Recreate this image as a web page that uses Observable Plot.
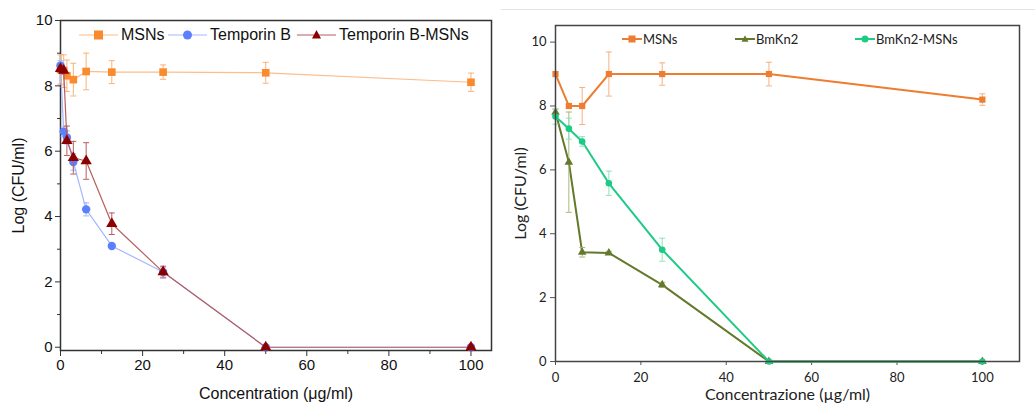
<!DOCTYPE html>
<html><head><meta charset="utf-8">
<script src="https://cdn.jsdelivr.net/npm/d3@7"></script>
<script src="https://cdn.jsdelivr.net/npm/@observablehq/plot@0.6"></script>
<style>
body{margin:0;background:#fff;}
#wrap{position:relative;width:1035px;height:403px;overflow:hidden;background:#fff;}
.panel{position:absolute;top:0;}
.leg{position:absolute;display:flex;align-items:center;white-space:nowrap;}
.leg svg{display:block;}
#legL .leg{font:16px "Liberation Sans",Arial,sans-serif;color:#111;}
#legR .leg{font:13px Lato,sans-serif;color:#222;}
#sep{position:absolute;left:501px;top:9px;width:534px;height:0;border-top:1.5px solid #e4e4e4;}
#left g[aria-label="x-axis label"], #left g[aria-label="y-axis label"]{font-size:16px;}
#right g[aria-label="x-axis label"], #right g[aria-label="y-axis label"]{font-size:16px;}
</style></head><body><div id="wrap"><div id="sep"></div></div>
<script>
// ---------- Left panel data (Temporin B) ----------
const concL = [0, 0.78, 1.56, 3.125, 6.25, 12.5, 25, 50, 100];
const msnsL = [8.5, 8.45, 8.31, 8.19, 8.44, 8.42, 8.42, 8.4, 8.11];
const msnsLErr = [0.45, 0.5, 0.48, 0.5, 0.56, 0.35, 0.22, 0.32, 0.28];
const tempB = [8.62, 6.6, 6.42, 5.67, 4.22, 3.1, 2.3, 0, 0];
const tempBErr = [0.15, 0.15, 0.2, 0.25, 0.2, 0.06, 0.15, 0, 0];
const tempBMSN = [8.52, 8.47, 6.32, 5.8, 5.7, 3.78, 2.3, 0, 0];
const tempBMSNErr = [0.1, 0.1, 0.45, 0.5, 0.56, 0.33, 0.18, 0, 0];
const seriesL = ["MSNs", "Temporin B", "Temporin B-MSNs"];
const xTicksL = [0, 20, 40, 60, 80, 100];
const xMinorL = [10, 30, 50, 70, 90];
const yTicks = [0, 2, 4, 6, 8, 10];
const yMinorL = [1, 3, 5, 7, 9];

// ---------- Right panel data (BmKn2) ----------
const concR = [0, 3.125, 6.25, 12.5, 25, 50, 100];
const msnsR = [9.0, 8.0, 8.0, 9.0, 9.0, 9.0, 8.2];
const msnsRErr = [0, 0.05, 0.58, 0.69, 0.35, 0.37, 0.18];
const bmkn2 = [7.8, 6.24, 3.42, 3.4, 2.4, 0, 0];
const bmkn2Err = [0.1, 1.57, 0.15, 0.05, 0.08, 0, 0];
const bmkn2MSN = [7.67, 7.29, 6.89, 5.58, 3.5, 0, 0];
const bmkn2MSNErr = [0.24, 0.33, 0.15, 0.38, 0.36, 0, 0];
const seriesR = ["MSNs", "BmKn2", "BmKn2-MSNs"];
const xTicksR = [0, 20, 40, 60, 80, 100];

const capSymbol = {draw(ctx, size){ const w = Math.sqrt(size/Math.PI); ctx.moveTo(-w,0); ctx.lineTo(w,0); }};
const rows = (conc, vals, errs) => conc.map((x,i)=>({x, y: vals[i], e: errs[i]}));

function seriesMarks(data, {line, marker, err, symbol, r, lw}) {
  const withErr = data.filter(d => d.e > 0);
  return [
    Plot.line(data, {x:"x", y:"y", stroke: line, strokeWidth: lw}),
    Plot.ruleX(withErr, {x:"x", y1: d=>d.y-d.e, y2: d=>d.y+d.e, stroke: err, strokeWidth: 1}),
    Plot.dot(withErr, {x:"x", y: d=>d.y+d.e, symbol: capSymbol, r: 3, stroke: err, strokeWidth: 1}),
    Plot.dot(withErr, {x:"x", y: d=>d.y-d.e, symbol: capSymbol, r: 3, stroke: err, strokeWidth: 1}),
    Plot.dot(data, {x:"x", y:"y", symbol, r, fill: marker, stroke: "none"})
  ];
}

// ---------- Left plot ----------
const left = Plot.plot({
  width: 500, height: 403,
  marginLeft: 60, marginTop: 20, marginRight: 9, marginBottom: 53,
  style: {fontFamily: '"Liberation Sans", Arial, sans-serif', fontSize: "15px", color: "#111", background: "transparent"},
  x: {domain: [0, 105]},
  y: {domain: [-0.1, 10]},
  marks: [
    Plot.frame({stroke: "#333", strokeWidth: 1.5}),
    Plot.axisX(xTicksL, {tickSize: 6, tickPadding: 3, fontSize: 15, label: "Concentration (μg/ml)", labelAnchor: "center", labelArrow: "none", labelOffset: 48, stroke: "#333"}),
    Plot.axisX(xMinorL, {tickSize: 4, tickFormat: () => "", label: null, stroke: "#333"}),
    Plot.axisY(yTicks, {tickSize: 5, tickPadding: 3, fontSize: 15, label: "Log (CFU/ml)", labelAnchor: "center", labelArrow: "none", labelOffset: 48, stroke: "#333"}),
    Plot.axisY(yMinorL, {tickSize: 3, tickFormat: () => "", label: null, stroke: "#333"}),
    ...seriesMarks(rows(concL, msnsL, msnsLErr), {line: "#FBBE8C", marker: "#F98A2E", err: "#FBB27A", symbol: "square", r: 4.3, lw: 1.2}),
    ...seriesMarks(rows(concL, tempB, tempBErr), {line: "#A4B6FF", marker: "#5B80FF", err: "#A4B6FF", symbol: "circle", r: 4.2, lw: 1.2}),
    ...seriesMarks(rows(concL, tempBMSN, tempBMSNErr), {line: "#B65F5F", marker: "#8B0000", err: "#B65F5F", symbol: "triangle", r: 4.2, lw: 1.2})
  ]
});
left.id = "left";
left.classList.add("panel");
left.style.left = "0px";

// ---------- Right plot ----------
const right = Plot.plot({
  width: 535, height: 403,
  marginLeft: 55, marginTop: 25, marginRight: 16, marginBottom: 42,
  style: {fontFamily: 'Lato, sans-serif', fontSize: "13px", color: "#222", background: "transparent"},
  x: {domain: [0, 108.7]},
  y: {domain: [0, 10.52]},
  marks: [
    Plot.axisX(xTicksR, {tickSize: 4, tickPadding: 7, fontSize: 13, label: "Concentrazione (µg/ml)", labelAnchor: "center", labelArrow: "none", labelOffset: 38, stroke: "#555"}),
    Plot.axisY(yTicks, {tickSize: 5, tickPadding: 4, fontSize: 13, label: "Log (CFU/ml)", labelAnchor: "center", labelArrow: "none", labelOffset: 41, stroke: "#555"}),
    ...seriesMarks(rows(concR, msnsR, msnsRErr), {line: "#ED7D31", marker: "#ED7D31", err: "#F4B183", symbol: "square", r: 3.5, lw: 2}),
    ...seriesMarks(rows(concR, bmkn2, bmkn2Err), {line: "#64792B", marker: "#64792B", err: "#A9B87F", symbol: "triangle", r: 3.2, lw: 2}),
    ...seriesMarks(rows(concR, bmkn2MSN, bmkn2MSNErr), {line: "#1ECB86", marker: "#1ECB86", err: "#8EE3BE", symbol: "circle", r: 3.3, lw: 2}),
    Plot.frame({stroke: "#444", strokeWidth: 1.5})
  ]
});
right.id = "right";
right.classList.add("panel");
right.style.left = "500px";

const wrap = document.getElementById("wrap");
wrap.appendChild(left);
wrap.appendChild(right);

// ---------- Legends ----------
function swatch(w, color, lineColor, sym, size, lw) {
  const c = w/2, h = 16, m = h/2;
  let mk = "";
  if (sym === "square") mk = `<rect x="${c-size/2}" y="${m-size/2}" width="${size}" height="${size}" fill="${color}"/>`;
  else if (sym === "circle") mk = `<circle cx="${c}" cy="${m}" r="${size/2}" fill="${color}"/>`;
  else mk = `<path d="M${c},${m-size*0.55} L${c+size/2},${m+size*0.4} L${c-size/2},${m+size*0.4} Z" fill="${color}"/>`;
  return `<svg width="${w}" height="${h}"><line x1="0" x2="${w}" y1="${m}" y2="${m}" stroke="${lineColor}" stroke-width="${lw}"/>${mk}</svg>`;
}
const legL = document.createElement("div"); legL.id = "legL";
const legR = document.createElement("div"); legR.id = "legR";
const legLItems = [
  {x: 79, color: "#F98A2E", line: "#FBBE8C", sym: "square"},
  {x: 168, color: "#5B80FF", line: "#A4B6FF", sym: "circle"},
  {x: 297, color: "#8B0000", line: "#B65F5F", sym: "triangle"}
];
seriesL.forEach((s, i) => {
  const it = legLItems[i];
  legL.insertAdjacentHTML("beforeend", `<div class="leg" style="left:${it.x}px;top:26px;height:18px">${swatch(39, it.color, it.line, it.sym, 9, 1.2)}<span style="margin-left:3px">${s}</span></div>`);
});
const legRItems = [
  {x: 622, color: "#ED7D31", sym: "square"},
  {x: 735, color: "#64792B", sym: "triangle"},
  {x: 855, color: "#1ECB86", sym: "circle"}
];
seriesR.forEach((s, i) => {
  const it = legRItems[i];
  legR.insertAdjacentHTML("beforeend", `<div class="leg" style="left:${it.x}px;top:31px;height:16px">${swatch(20, it.color, it.color, it.sym, 7, 2)}<span style="margin-left:1px">${s}</span></div>`);
});
wrap.appendChild(legL);
wrap.appendChild(legR);
</script>
</body></html>
